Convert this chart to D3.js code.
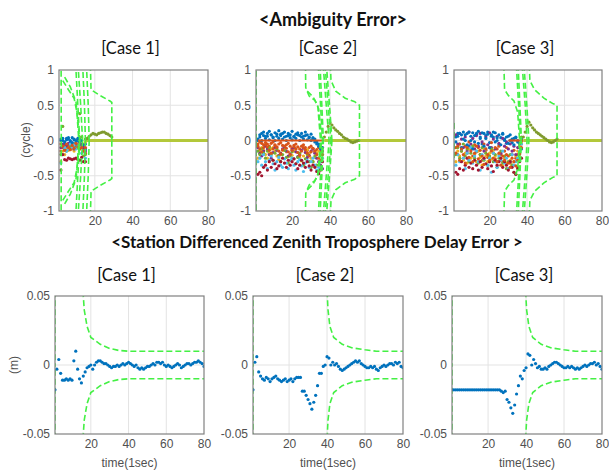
<!DOCTYPE html>
<html>
<head>
<meta charset="utf-8">
<script src="https://cdn.jsdelivr.net/npm/d3@7"></script>
<style>
  body { margin: 0; background: #fff; }
  svg { display: block; }
</style>
</head>
<body>
<svg id="chart"></svg>
<script>
const xTicks = [20, 40, 60, 80];
const ambTicks = [-1, -0.5, 0, 0.5, 1];
const tropoTicks = [-0.05, 0, 0.05];
const caseTitles = ["[Case 1]", "[Case 2]", "[Case 3]"];
const seriesColors = ["#0072BD", "#D95319", "#EDB120", "#7E2F8E", "#77AC30", "#4DBEEE", "#A2142F"];

// ---- ambiguity float errors (cycle), one row per ambiguity ----
const amb1Start = 2;
const amb1 = [
  [0.02, 0.0, -0.05, 0.03, 0.02, -0.02, 0.04, 0.01, -0.03, 0.0, 0.02, -0.05, -0.1, -0.05],
  [-0.05, -0.1, -0.08, -0.12, -0.06, -0.1, -0.04, -0.08, -0.1, -0.06, -0.02, -0.08, -0.12, -0.18],
  [-0.3, -0.15, -0.2, -0.1, -0.14, -0.09, -0.12, -0.15, -0.08, -0.1, -0.12, 0.05, -0.05, -0.02],
  [-0.1, -0.05, -0.12, -0.08, -0.04, -0.1, -0.06, -0.12, -0.07, -0.09, -0.03, -0.06, -0.1, -0.15],
  [-0.2, 0.2, -0.1, -0.15, -0.12, -0.08, -0.1, -0.05, -0.1, 0.02, 0.38, 0.05, -0.22, -0.2],
  [-0.32, -0.2, -0.1, -0.15, -0.12, -0.05, -0.1, -0.06, -0.12, -0.08, -0.1, -0.18, -0.15, -0.25],
  [-0.42, -0.2, -0.27, -0.28, -0.25, -0.26, -0.27, -0.26, -0.25, -0.27, -0.28, -0.24, -0.3, -0.3],
  [0.0, 0.03, -0.02, 0.01, 0.04, 0.0, -0.03, 0.02, 0.0, 0.03, -0.01, 0.0, -0.06, -0.12],
  [-0.15, -0.08, -0.14, -0.05, -0.1, -0.13, -0.07, -0.11, -0.04, -0.09, -0.12, -0.1, -0.15, -0.1]
];
const amb1TailStart = 15;
const amb1Tail = [0.02, 0.03, 0.06, 0.08, 0.1, 0.09, 0.08, 0.1, 0.11, 0.12, 0.12, 0.1, 0.09, 0.07, 0.05];
const amb1Zero = [[15, 80]];
const amb1Bounds = [
  [[2.1, 1.5], [2.2, 0]],
  [[3, 0.85], [6, 0.72], [9, 0.6], [10.5, 0.4], [11.5, 0]],
  [[4, 0.9], [7, 0.76], [10, 0.55], [12, 0]],
  [[9.8, 1.1], [11, 0.5], [12, 0]],
  [[11, 1.1], [12.5, 0.5], [13.5, 0]],
  [[13.5, 1.1], [14.5, 0.5], [15, 0]],
  [[15.5, 1.1], [16.5, 0.5], [17, 0]],
  [[17.5, 1.2], [18, 0.72], [22, 0.65], [28, 0.56], [29, 0.54], [29, 0]]
];

const amb2Start = 2;
const amb2 = [
  [0.0, 0.08, 0.1, 0.12, 0.06, 0.1, 0.13, 0.08, 0.05, 0.11, 0.09, 0.14, 0.07, 0.1, 0.12, 0.06, 0.1, 0.08, 0.13, 0.05, 0.09, 0.11, 0.07, 0.1, 0.06, 0.12, 0.08, 0.05, 0.09, 0.04, 0.02, -0.02, -0.05, -0.1, -0.15],
  [-0.05, -0.02, -0.04, -0.06, -0.03, -0.05, -0.08, -0.04, -0.02, -0.06, -0.09, -0.05, -0.03, -0.07, -0.1, -0.06, -0.04, -0.08, -0.11, -0.07, -0.05, -0.09, -0.12, -0.08, -0.06, -0.1, -0.14, -0.1, -0.08, -0.12, -0.16, -0.13, -0.1, -0.15, -0.2],
  [-0.25, -0.15, -0.1, -0.14, -0.2, -0.25, -0.18, -0.12, -0.1, -0.15, -0.22, -0.27, -0.2, -0.14, -0.11, -0.16, -0.23, -0.28, -0.21, -0.15, -0.12, -0.17, -0.24, -0.29, -0.22, -0.16, -0.13, -0.18, -0.25, -0.3, -0.24, -0.18, -0.15, -0.2, -0.1],
  [-0.1, -0.18, -0.22, -0.15, -0.08, -0.12, -0.2, -0.25, -0.17, -0.1, -0.14, -0.21, -0.18, -0.12, -0.09, -0.15, -0.22, -0.19, -0.13, -0.1, -0.16, -0.23, -0.2, -0.14, -0.11, -0.17, -0.24, -0.21, -0.15, -0.12, -0.18, -0.25, -0.3, -0.35, -0.4],
  [-0.15, -0.2, -0.12, -0.18, -0.25, -0.15, -0.1, -0.2, -0.28, -0.18, -0.12, -0.22, -0.3, -0.2, -0.14, -0.24, -0.32, -0.22, -0.16, -0.26, -0.33, -0.24, -0.18, -0.28, -0.35, -0.26, -0.2, -0.3, -0.38, -0.3, -0.22, -0.35, -0.45, -0.4, -0.2],
  [-0.3, -0.25, -0.35, -0.2, -0.3, -0.4, -0.28, -0.22, -0.33, -0.42, -0.3, -0.24, -0.35, -0.38, -0.26, -0.32, -0.4, -0.28, -0.25, -0.35, -0.42, -0.3, -0.27, -0.36, -0.44, -0.32, -0.28, -0.38, -0.3, -0.25, -0.35, -0.42, -0.38, -0.3, -0.25],
  [-0.48, -0.45, -0.5, -0.38, -0.35, -0.42, -0.3, -0.38, -0.28, -0.33, -0.4, -0.36, -0.3, -0.25, -0.32, -0.38, -0.28, -0.35, -0.3, -0.26, -0.33, -0.4, -0.35, -0.28, -0.32, -0.38, -0.3, -0.36, -0.42, -0.35, -0.38, -0.44, -0.47, -0.42, -0.3],
  [0.02, 0.05, 0.0, 0.07, 0.03, 0.06, 0.01, 0.08, 0.04, 0.0, 0.06, 0.03, 0.09, 0.02, 0.05, 0.0, 0.07, 0.04, 0.01, 0.06, 0.03, 0.08, 0.0, 0.05, 0.02, 0.07, 0.01, 0.04, 0.0, 0.03, -0.02, -0.05, -0.08, -0.12, -0.1],
  [-0.08, -0.12, -0.16, -0.1, -0.06, -0.09, -0.14, -0.18, -0.12, -0.07, -0.1, -0.15, -0.19, -0.13, -0.08, -0.11, -0.16, -0.2, -0.14, -0.09, -0.12, -0.17, -0.21, -0.15, -0.1, -0.13, -0.18, -0.22, -0.16, -0.11, -0.15, -0.2, -0.25, -0.28, -0.15]
];
const amb2TailStart = 37;
const amb2Tail = [0.05, 0.12, 0.2, 0.25, 0.22, 0.18, 0.15, 0.13, 0.1, 0.08, 0.05, 0.03, 0.02, 0.0, -0.02, -0.03, -0.02, -0.01, 0.0];
const amb2Zero = [[2, 37], [37, 80]];
const amb2Bounds = [
  [[1.05, 1.5], [1.1, 0]],
  [[27, 1.2], [27.2, 0.75], [29, 0.63], [32, 0.57], [34, 0.45], [35, 0.2], [35.5, 0]],
  [[28, 0.7], [31, 0.62], [33.5, 0.5], [35, 0]],
  [[33.5, 1.2], [35, 0.5], [36, 0]],
  [[34.5, 1.2], [35.5, 0.6], [36.5, 0]],
  [[36, 1.2], [38, 0.5], [39.5, 0]],
  [[37, 1.2], [39, 0.5], [40.5, 0]],
  [[38, 1.1], [40, 0.4], [41, 0]],
  [[40, 1.2], [40.5, 0.85], [43, 0.7], [48, 0.6], [53, 0.55], [55.5, 0.5], [55.5, 0]]
];

const amb3Start = 2;
const amb3 = [
  [0.05, 0.1, -0.05, 0.08, 0.12, 0.0, 0.1, -0.08, 0.06, 0.11, -0.02, 0.09, 0.13, 0.03, -0.05, 0.1, 0.07, 0.12, -0.03, 0.08, 0.05, 0.11, 0.0, -0.06, 0.04, 0.09, 0.02, -0.04, 0.06, 0.0, -0.03, 0.03, 0.05, -0.02, -0.08, -0.12],
  [-0.1, -0.2, -0.05, -0.15, -0.25, -0.08, -0.18, -0.02, -0.12, -0.22, -0.06, -0.16, -0.1, -0.2, -0.28, -0.05, -0.14, -0.24, -0.1, -0.03, -0.18, -0.26, -0.12, -0.08, -0.2, -0.3, -0.15, -0.1, -0.22, -0.32, -0.2, -0.14, -0.25, -0.2, -0.1, -0.05],
  [-0.3, -0.15, -0.22, -0.1, -0.28, -0.18, -0.32, -0.12, -0.25, -0.08, -0.2, -0.3, -0.15, -0.24, -0.35, -0.12, -0.22, -0.3, -0.18, -0.26, -0.14, -0.22, -0.3, -0.2, -0.28, -0.36, -0.25, -0.32, -0.4, -0.28, -0.35, -0.3, -0.22, -0.15, -0.08, -0.02],
  [0.08, -0.05, 0.1, 0.02, -0.1, 0.05, -0.15, 0.12, -0.05, 0.03, -0.12, 0.07, -0.08, 0.1, -0.02, -0.15, 0.05, -0.06, 0.11, -0.1, 0.02, -0.12, 0.06, -0.04, -0.18, 0.03, -0.08, -0.02, -0.12, -0.05, -0.15, -0.08, -0.2, -0.1, -0.04, 0.0],
  [-0.2, -0.1, -0.25, -0.15, -0.05, -0.22, -0.12, -0.3, -0.18, -0.08, -0.25, -0.15, -0.32, -0.2, -0.1, -0.28, -0.18, -0.35, -0.22, -0.12, -0.3, -0.2, -0.38, -0.25, -0.15, -0.32, -0.22, -0.4, -0.3, -0.2, -0.35, -0.45, -0.48, -0.38, -0.2, 0.05],
  [-0.35, -0.2, -0.3, -0.12, -0.25, -0.4, -0.18, -0.28, -0.1, -0.32, -0.22, -0.15, -0.3, -0.42, -0.2, -0.26, -0.12, -0.35, -0.25, -0.45, -0.18, -0.3, -0.38, -0.22, -0.28, -0.15, -0.32, -0.25, -0.4, -0.3, -0.2, -0.35, -0.3, -0.25, -0.15, -0.05],
  [-0.45, -0.48, -0.4, -0.3, -0.42, -0.35, -0.25, -0.38, -0.32, -0.4, -0.28, -0.35, -0.42, -0.3, -0.38, -0.25, -0.33, -0.4, -0.3, -0.36, -0.44, -0.28, -0.35, -0.3, -0.25, -0.38, -0.3, -0.35, -0.42, -0.3, -0.38, -0.45, -0.48, -0.4, -0.3, -0.25],
  [-0.02, 0.06, 0.1, -0.1, 0.02, 0.08, -0.06, 0.12, 0.0, -0.12, 0.07, 0.1, -0.04, 0.05, 0.11, -0.08, 0.03, 0.09, -0.1, 0.06, 0.12, -0.02, 0.04, 0.08, -0.06, 0.1, 0.0, 0.05, -0.04, 0.08, 0.02, -0.06, 0.04, 0.0, -0.04, 0.02],
  [-0.18, -0.08, -0.28, -0.12, -0.2, -0.32, -0.1, -0.24, -0.15, -0.3, -0.18, -0.08, -0.26, -0.14, -0.22, -0.34, -0.12, -0.2, -0.28, -0.15, -0.25, -0.1, -0.3, -0.18, -0.35, -0.22, -0.28, -0.2, -0.32, -0.38, -0.25, -0.3, -0.36, -0.28, -0.18, -0.1]
];
const amb3TailStart = 38;
const amb3Tail = [0.05, 0.12, 0.2, 0.26, 0.22, 0.18, 0.15, 0.12, 0.1, 0.08, 0.06, 0.04, 0.02, 0.0, -0.02, -0.03, -0.02, 0.0, 0.02];
const amb3Zero = [[30, 38], [38, 80]];
const amb3Bounds = [
  [[1.05, 0.25], [1.1, 0]],
  [[27.5, 1.2], [28, 0.72], [30, 0.64], [33, 0.56], [35, 0.4], [36, 0]],
  [[34, 1.2], [35.5, 0.5], [36.5, 0]],
  [[35, 1.2], [36, 0.6], [37, 0]],
  [[37, 1.2], [39, 0.5], [40, 0]],
  [[38, 1.2], [40, 0.45], [41, 0]],
  [[41, 1.2], [41.5, 0.85], [44, 0.72], [49, 0.6], [54, 0.52], [56, 0.5], [56, 0]]
];

// ---- station differenced ZTD error (m), epochs 1..80 ----
const tropo1 = [-0.018, -0.003, 0.004, -0.006, -0.011, -0.011, -0.010, -0.011, -0.010, -0.011,
  0.003, 0.010, -0.003, -0.010, -0.013, -0.008, -0.005, -0.002, -0.001, 0.000,
  -0.003, 0.000, 0.002, 0.003, 0.003, 0.002, 0.001, 0.001, 0.000, -0.001,
  -0.002, -0.001, -0.001, 0.000, -0.001, 0.000, 0.001, 0.000, 0.001, 0.002,
  0.001, 0.000, -0.001, 0.000, -0.002, -0.003, -0.002, -0.003, -0.002, -0.001,
  -0.001, 0.000, 0.001, 0.000, 0.002, 0.002, 0.001, 0.002, 0.000, -0.001,
  0.000, -0.001, -0.002, -0.001, 0.000, 0.001, 0.000, -0.002, -0.001, 0.000,
  0.001, 0.001, 0.000, 0.001, 0.002, 0.002, 0.003, 0.002, 0.001, -0.001];
const tropo2 = [-0.018, 0.002, 0.006, -0.005, -0.008, -0.010, -0.011, -0.009, -0.010, -0.012,
  -0.010, -0.009, -0.008, -0.010, -0.011, -0.012, -0.011, -0.010, -0.012, -0.011,
  -0.010, -0.012, -0.010, -0.009, -0.009, -0.009, -0.019, -0.019, -0.022, -0.025,
  -0.028, -0.032, -0.027, -0.022, -0.015, -0.006, -0.006, -0.001, 0.000, 0.006,
  0.005, 0.000, 0.002, 0.000, 0.001, -0.001, -0.003, -0.004, -0.003, -0.002,
  -0.001, 0.000, 0.001, 0.002, 0.003, 0.002, 0.003, 0.001, 0.000, -0.001,
  -0.002, -0.002, -0.001, -0.002, -0.001, -0.003, -0.004, -0.002, -0.001, 0.000,
  -0.001, 0.000, 0.001, 0.001, 0.000, 0.002, 0.001, 0.002, -0.001, -0.002];
const tropo3 = [-0.018, -0.018, -0.018, -0.018, -0.018, -0.018, -0.018, -0.018, -0.018, -0.018,
  -0.018, -0.018, -0.018, -0.018, -0.018, -0.018, -0.018, -0.018, -0.018, -0.018,
  -0.018, -0.018, -0.018, -0.018, -0.018, -0.018, -0.019, -0.020, -0.019, -0.025,
  -0.027, -0.031, -0.035, -0.029, -0.021, -0.015, -0.008, -0.010, -0.004, -0.002,
  0.008, 0.007, 0.000, 0.004, 0.001, -0.002, -0.001, -0.003, -0.003, -0.002,
  -0.003, -0.001, 0.000, 0.001, 0.002, 0.002, 0.001, 0.000, -0.001, -0.002,
  -0.002, -0.001, -0.002, -0.001, -0.002, -0.003, -0.002, -0.003, -0.002, -0.001,
  0.000, -0.001, 0.000, 0.001, 0.001, 0.002, 0.000, 0.001, -0.001, -0.003];
const tropo1Bounds = [
  [[1, 0.06], [1, 0]],
  [[15.5, 0.06], [16.5, 0.04], [18, 0.028], [20, 0.02], [25, 0.015], [30, 0.012], [35, 0.0105], [40, 0.01], [80, 0.01]]
];
const tropo2Bounds = [
  [[1, 0.06], [1, 0]],
  [[39.8, 0.06], [40.5, 0.04], [41.5, 0.028], [43.5, 0.02], [48, 0.015], [53, 0.0125], [60, 0.011], [66, 0.01], [80, 0.01]]
];
const tropo3Bounds = [
  [[1, 0.06], [1, 0]],
  [[39.5, 0.06], [40.3, 0.04], [41.5, 0.028], [43.5, 0.02], [48, 0.015], [53, 0.0125], [60, 0.011], [66, 0.01], [80, 0.01]]
];

const width = 609, height = 473;
const svg = d3.select("#chart").attr("width", width).attr("height", height);
svg.append("rect").attr("width", width).attr("height", height).attr("fill", "#fff");

const tickFont = "'Liberation Sans', Arial, sans-serif";
const titleFont = "Lato, 'Open Sans', sans-serif";
const boundColor = "#44f044";
let clipCount = 0;

function makePanel(box, yDomain, yTicks) {
  const x = d3.scaleLinear().domain([1, 80]).range([box.x0, box.x1]);
  const y = d3.scaleLinear().domain(yDomain).range([box.y1, box.y0]);
  const g = svg.append("g");
  const id = "clip" + (clipCount++);

  svg.append("clipPath").attr("id", id).append("rect")
    .attr("x", box.x0).attr("y", box.y0)
    .attr("width", box.x1 - box.x0).attr("height", box.y1 - box.y0);

  // grid
  g.append("g").selectAll("line")
    .data(xTicks.filter(d => d < 80))
    .enter().append("line")
    .attr("x1", d => x(d)).attr("x2", d => x(d))
    .attr("y1", box.y0).attr("y2", box.y1)
    .attr("stroke", "#e3e3e3");
  g.append("g").selectAll("line")
    .data(yTicks.slice(1, -1))
    .enter().append("line")
    .attr("x1", box.x0).attr("x2", box.x1)
    .attr("y1", d => y(d)).attr("y2", d => y(d))
    .attr("stroke", "#e3e3e3");

  g.append("g")
    .attr("transform", `translate(${box.x0},0)`)
    .call(d3.axisLeft(y).tickValues(yTicks).tickSize(0).tickPadding(5).tickFormat(d => String(d)))
    .call(a => a.select(".domain").remove())
    .attr("font-size", 12).attr("font-family", tickFont)
    .selectAll("text").attr("fill", "#505050");

  g.append("g")
    .attr("transform", `translate(0,${box.y1})`)
    .call(d3.axisBottom(x).tickValues(xTicks).tickSize(0).tickPadding(5).tickFormat(d => String(d)))
    .call(a => a.select(".domain").remove())
    .attr("font-size", 12).attr("font-family", tickFont)
    .selectAll("text").attr("fill", "#505050");

  const plot = g.append("g").attr("clip-path", `url(#${id})`);
  return { x, y, g, plot, box };
}

function drawFrame(p) {
  p.g.append("rect")
    .attr("x", p.box.x0).attr("y", p.box.y0)
    .attr("width", p.box.x1 - p.box.x0).attr("height", p.box.y1 - p.box.y0)
    .attr("fill", "none").attr("stroke", "#808080").attr("stroke-width", 1.2);
}

function drawBounds(p, bounds) {
  const line = d3.line().x(d => p.x(d[0])).y(d => p.y(d[1]));
  bounds.forEach(curve => {
    [1, -1].forEach(sign => {
      p.plot.append("path")
        .attr("d", line(curve.map(d => [d[0], sign * d[1]])))
        .attr("fill", "none")
        .attr("stroke", boundColor)
        .attr("stroke-width", 1.6)
        .attr("stroke-dasharray", "6,3");
    });
  });
}

function drawDots(p, start, values, color, r) {
  p.plot.append("g").selectAll("circle")
    .data(values)
    .enter().append("circle")
    .attr("cx", (d, i) => p.x(start + i))
    .attr("cy", d => p.y(d))
    .attr("r", r)
    .attr("fill", color);
}

// ---- titles ----
svg.append("text")
  .attr("x", 333).attr("y", 26)
  .attr("text-anchor", "middle")
  .attr("font-family", titleFont).attr("font-weight", 700).attr("font-size", 18)
  .attr("fill", "#111")
  .text("<Ambiguity Error>");
svg.append("text")
  .attr("x", 317).attr("y", 248)
  .attr("text-anchor", "middle")
  .attr("font-family", titleFont).attr("font-weight", 700).attr("font-size", 17)
  .attr("fill", "#111")
  .text("<Station Differenced Zenith Troposphere Delay Error >");

// ---- ambiguity panels ----
const topBoxes = [
  { x0: 59, x1: 208, y0: 70, y1: 211 },
  { x0: 256, x1: 406, y0: 70, y1: 211 },
  { x0: 454, x1: 602, y0: 70, y1: 211 }
];
const ambSets = [
  { start: amb1Start, series: amb1, tailStart: amb1TailStart, tail: amb1Tail, zero: amb1Zero, bounds: amb1Bounds },
  { start: amb2Start, series: amb2, tailStart: amb2TailStart, tail: amb2Tail, zero: amb2Zero, bounds: amb2Bounds },
  { start: amb3Start, series: amb3, tailStart: amb3TailStart, tail: amb3Tail, zero: amb3Zero, bounds: amb3Bounds }
];

ambSets.forEach((s, k) => {
  const box = topBoxes[k];
  const p = makePanel(box, [-1, 1], ambTicks);

  s.series.forEach((vals, i) => drawDots(p, s.start, vals, seriesColors[i % seriesColors.length], 1.6));

  s.zero.forEach((run, i) => {
    const last = i === s.zero.length - 1;
    p.plot.append("line")
      .attr("x1", p.x(run[0])).attr("x2", p.x(run[1]))
      .attr("y1", p.y(0)).attr("y2", p.y(0))
      .attr("stroke", last ? "#b3c83a" : "#D95319")
      .attr("stroke-width", last ? 3 : 2.2);
  });

  drawDots(p, s.tailStart, s.tail, "#7f9a2e", 1.6);
  drawBounds(p, s.bounds);
  drawFrame(p);

  svg.append("text")
    .attr("x", (box.x0 + box.x1) / 2 - 3).attr("y", 54)
    .attr("text-anchor", "middle")
    .attr("font-family", titleFont).attr("font-size", 16.5).attr("fill", "#111")
    .text(caseTitles[k]);
});

svg.append("text")
  .attr("transform", `translate(30,140) rotate(-90)`)
  .attr("text-anchor", "middle")
  .attr("font-family", tickFont).attr("font-size", 12).attr("fill", "#505050")
  .text("(cycle)");

// ---- troposphere panels ----
const botBoxes = [
  { x0: 55, x1: 204, y0: 296, y1: 434 },
  { x0: 253, x1: 403, y0: 296, y1: 434 },
  { x0: 452, x1: 602, y0: 296, y1: 434 }
];
const tropoSets = [
  { values: tropo1, bounds: tropo1Bounds },
  { values: tropo2, bounds: tropo2Bounds },
  { values: tropo3, bounds: tropo3Bounds }
];

tropoSets.forEach((s, k) => {
  const box = botBoxes[k];
  const p = makePanel(box, [-0.05, 0.05], tropoTicks);
  drawBounds(p, s.bounds);
  drawDots(p, 1, s.values, "#0072BD", 1.6);
  drawFrame(p);

  svg.append("text")
    .attr("x", (box.x0 + box.x1) / 2 - 3).attr("y", 281)
    .attr("text-anchor", "middle")
    .attr("font-family", titleFont).attr("font-size", 16.5).attr("fill", "#111")
    .text(caseTitles[k]);

  svg.append("text")
    .attr("x", (box.x0 + box.x1) / 2).attr("y", 467)
    .attr("text-anchor", "middle")
    .attr("font-family", tickFont).attr("font-size", 12).attr("fill", "#505050")
    .text("time(1sec)");
});

svg.append("text")
  .attr("transform", `translate(18,365) rotate(-90)`)
  .attr("text-anchor", "middle")
  .attr("font-family", tickFont).attr("font-size", 12).attr("fill", "#505050")
  .text("(m)");
</script>
</body>
</html>
